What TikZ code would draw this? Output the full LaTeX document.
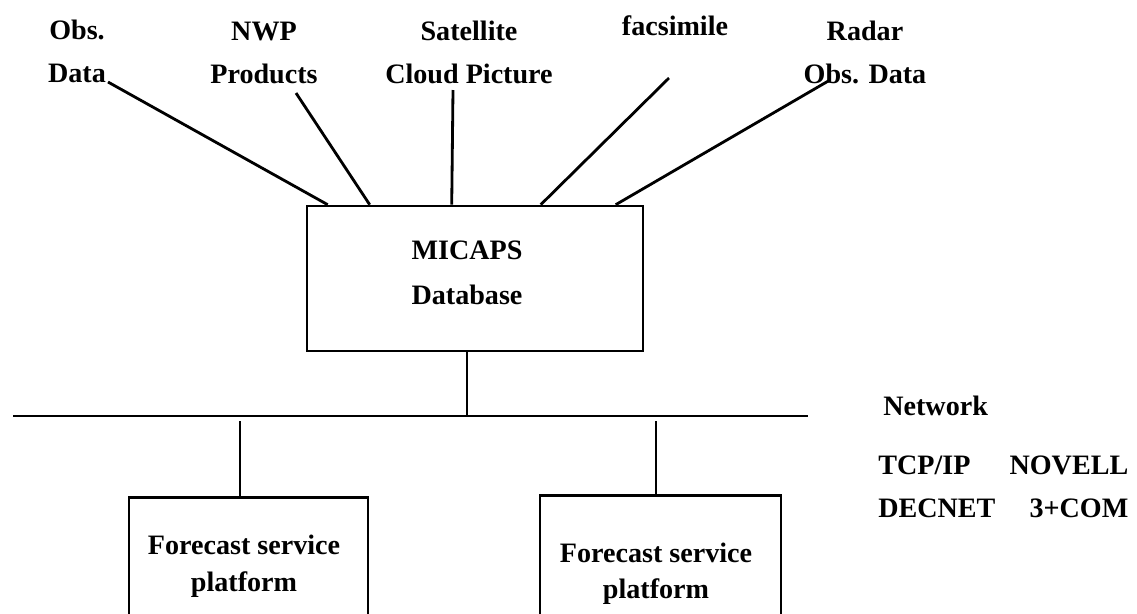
\documentclass[tikz,border=0pt]{standalone}
\usepackage{fontspec}
\setmainfont{Liberation Serif}
\usepackage{tikz}
\usetikzlibrary{positioning, calc}

\begin{document}
\begin{tikzpicture}[
    x=0.02cm, y=-0.02cm,
    font=\bfseries\fontsize{16}{24}\selectfont,
    dbbox/.style={draw, line width=1.5pt, minimum width=6.72cm, minimum height=2.9cm, inner sep=0pt},
    platform/.style={draw, line width=1.5pt, minimum height=3cm, inner sep=0pt, anchor=north},
    source/.style={align=center, anchor=base, inner sep=0pt},
    link/.style={line width=1.6pt},
    bus/.style={line width=1.6pt}
]
    \useasboundingbox (0,0) rectangle (1137,613);
    \clip (0,0) rectangle (1137,613);

    % Data sources (Top)
    \node[source] (obs) at (77,82) {Obs.\\Data};
    \node[source] (nwp) at (264,83) {NWP\\Products};
    \node[source] (sat) at (469,83) {Satellite\\Cloud Picture};
    \node[source] (fax) at (675,35) {facsimile};
    \node[source] (radar) at (865,83) {Radar\\Obs. Data};

    % Database
    \node[dbbox] (db) at (475,278.5) {};
    \node[source] (dbtxt) at (467,304) {MICAPS\\[1.5pt]Database};

    % Network bus
    \coordinate (busW) at (13,416);
    \coordinate (busE) at (808,416);
    \coordinate (tapDb) at (467,416);
    \coordinate (tapL) at (240,421);
    \coordinate (tapR) at (656,421);
    \node[anchor=base west, inner sep=0pt] (net) at (883,415) {Network};
    \node[anchor=base west, align=left, inner sep=0pt] (proto) at (878,517)
        {\makebox[5cm]{TCP/IP\hfill NOVELL}\\\makebox[5cm]{DECNET\hfill 3+COM}};

    % Forecast platforms (Bottom)
    \node[platform, minimum width=4.78cm] (fsp1) at (248.5,496) {};
    \node[platform, minimum width=4.82cm] (fsp2) at (660.5,494) {};
    \node[source] (fsp1txt) at (244,591) {Forecast service\\[-3pt]platform};
    \node[source] (fsp2txt) at (656,598) {Forecast service\\[-4pt]platform};

    % Links into the database
    \coordinate (obsTail) at (108,82);
    \coordinate (nwpTail) at (296,93);
    \coordinate (satTail) at (453,90);
    \coordinate (faxTail) at (669,78);
    \coordinate (radarTail) at (830,80);
    \draw[link] (obsTail) -- ($(db.north west)+(22,0)$);
    \draw[link] (nwpTail) -- ($(db.north west)+(64,0)$);
    \draw[link] (satTail) -- ($(db.north west)+(146,0)$);
    \draw[link] (faxTail) -- ($(db.north west)+(235,0)$);
    \draw[link] (radarTail) -- ($(db.north west)+(310,0)$);

    % Network links
    \draw[bus] (busW) -- (busE);
    \draw[link] (tapDb |- db.south) -- (tapDb);
    \draw[link] (tapL) -- (tapL |- fsp1.north);
    \draw[link] (tapR) -- (tapR |- fsp2.north);

\end{tikzpicture}
\end{document}
